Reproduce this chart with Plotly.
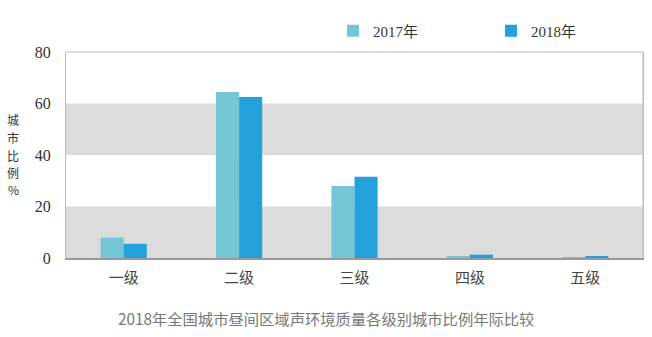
import plotly.graph_objects as go

# Noise-quality grades and share of cities (%) in each grade
categories = ["一级", "二级", "三级", "四级", "五级"]
share_2017 = [7.9, 64.5, 28.0, 0.7, 0.3]
share_2018 = [5.5, 62.5, 31.6, 1.3, 0.6]
series_names = ["2017年", "2018年"]
y_ticks = [0, 20, 40, 60, 80]
y_title_chars = list("城市比例%")

W, H = 652, 337
L, R, T, B = 66, 9, 52, 79
plot_h = H - T - B
plot_w = W - L - R


def px_x(x):
    return (x - L) / plot_w


def px_y(y):
    return (H - B - y) / plot_h


fig = go.Figure()
fig.add_trace(go.Bar(x=categories, y=share_2017, name=series_names[0],
                     marker=dict(color="#74c6d4", line=dict(width=0))))
fig.add_trace(go.Bar(x=categories, y=share_2018, name=series_names[1],
                     marker=dict(color="#23a1da", line=dict(width=0))))

# alternating grey bands between every other pair of gridlines
for lo, hi in zip(y_ticks[:-1:2], y_ticks[1::2]):
    fig.add_shape(type="rect", xref="paper", yref="y", x0=0, x1=1, y0=lo, y1=hi,
                  fillcolor="#dcdcdc", line=dict(width=0), layer="below")

# vertical axis title, one character per line
for i, ch in enumerate(y_title_chars):
    fig.add_annotation(text=ch, xref="paper", yref="paper",
                       x=px_x(13), y=px_y(120 + 17.5 * i), xanchor="center",
                       yanchor="middle", showarrow=False, borderpad=0,
                       font=dict(family="Noto Sans CJK SC", size=12, color="#333"))

fig.add_annotation(text="2018年全国城市昼间区域声环境质量各级别城市比例年际比较",
                   xref="paper", yref="paper", x=px_x(326), y=px_y(318),
                   xanchor="center", yanchor="middle", showarrow=False,
                   font=dict(family="Noto Sans CJK SC", size=15.3, color="#777"))

fig.update_layout(
    width=W, height=H,
    margin=dict(l=L, r=R, t=T, b=B, autoexpand=False),
    paper_bgcolor="white", plot_bgcolor="white",
    barmode="group", bargap=0.6, bargroupgap=0,
    showlegend=True,
    legend=dict(orientation="h", x=px_x(333), y=px_y(31),
                xanchor="left", yanchor="middle", entrywidth=113,
                entrywidthmode="pixels", itemwidth=30,
                font=dict(family="Liberation Serif, Noto Sans CJK SC", size=15,
                          color="#333")),
    xaxis=dict(showgrid=False, ticks="", showline=True, linecolor="#999",
               linewidth=1.5, mirror=False, ticklabelstandoff=5,
               tickfont=dict(family="Noto Sans CJK SC", size=15, color="#444")),
    yaxis=dict(range=[0, 80], tickvals=y_ticks, showgrid=False, zeroline=False,
               showline=True, linecolor="#bbb", linewidth=1, mirror=True,
               ticks="", ticklabelstandoff=11,
               tickfont=dict(family="Liberation Serif", size=16, color="#333")),
)
fig.add_shape(type="line", xref="paper", yref="paper", x0=0, x1=1, y0=1, y1=1,
              line=dict(color="#bbb", width=1))
fig.add_shape(type="line", xref="paper", yref="paper", x0=1, x1=1, y0=0, y1=1,
              line=dict(color="#bbb", width=1))

fig.write_html("out.html")
